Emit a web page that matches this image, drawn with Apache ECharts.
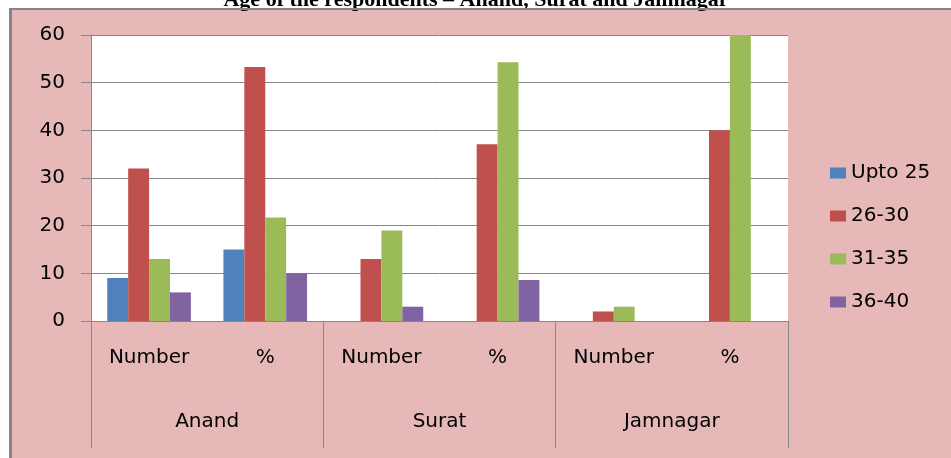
<!DOCTYPE html>
<html>
<head>
<meta charset="utf-8">
<script src="https://cdn.jsdelivr.net/npm/echarts@6/dist/echarts.min.js"></script>
<style>
  html, body { margin: 0; padding: 0; background: #fff; overflow: hidden; }
  #frame {
    position: absolute; left: 9px; top: 8px; width: 950px; height: 460px;
    background: #e6b9b8; border-left: 3px solid #868686; border-top: 2px solid #868686;
  }
  #chart { position: absolute; left: 0; top: 0; width: 951px; height: 458px; }
</style>
</head>
<body>
<div id="frame"></div>
<div id="chart"></div>
<script>
// sub categories (Number / %) under each town
const categories = ["Number", "%", "Number", "%", "Number", "%"];
const towns = ["Anand", "Surat", "Jamnagar"];
const ageBands = ["Upto 25", "26-30", "31-35", "36-40"];

const upto25 = [9, 15, 0, 0, 0, 0];
const age26to30 = [32, 53.3, 13, 37.1, 2, 40];
const age31to35 = [13, 21.7, 19, 54.3, 3, 60];
const age36to40 = [6, 10, 3, 8.6, 0, 0];

const yTicks = { min: 0, max: 60, interval: 10 };

const colors = ["#4f81bd", "#c0504d", "#9bbb59", "#8064a2"];
const grey = "#868686";
const font = "DejaVu Sans";

const chart = echarts.init(document.getElementById("chart"));

const seriesData = [upto25, age26to30, age31to35, age36to40];

chart.setOption({
    backgroundColor: "transparent",
    animation: false,
    color: colors,
    graphic: [
        {
            type: "text",
            x: 476,
            y: 11,
            style: {
                text: "Age of the respondents \u2013 Anand, Surat and Jamnagar",
                font: "bold 22px 'Liberation Serif'",
                fill: "#000",
                textAlign: "center",
                textVerticalAlign: "bottom",
            },
        },
        // frame top edge redrawn over the clipped title
        { type: "rect", shape: { x: 9, y: 8, width: 942, height: 2 }, style: { fill: grey } },
    ],
    grid: {
        left: 91,
        right: 163,
        top: 35,
        bottom: 137,
        show: true,
        backgroundColor: "#fff",
        borderWidth: 0,
    },
    legend: {
        orient: "vertical",
        left: 830,
        top: 163,
        padding: 0,
        itemWidth: 16,
        itemHeight: 11,
        itemGap: 23,
        icon: "rect",
        data: ageBands,
        textStyle: { fontFamily: font, fontSize: 20, color: "#000" },
    },
    xAxis: [
        {
            type: "category",
            data: categories,
            position: "bottom",
            offset: 0,
            axisLine: { onZero: false, lineStyle: { color: grey } },
            axisTick: { length: 64, interval: 0, lineStyle: { color: grey } },
            axisLabel: { interval: 0, margin: 27, fontFamily: font, fontSize: 20, color: "#000" },
        },
        {
            type: "category",
            data: towns,
            position: "bottom",
            offset: 0,
            axisLine: { show: false, onZero: false },
            axisTick: { show: true, length: 127, interval: 0, lineStyle: { color: grey } },
            axisLabel: { interval: 0, margin: 91, fontFamily: font, fontSize: 20, color: "#000" },
        },
    ],
    yAxis: {
        type: "value",
        min: yTicks.min,
        max: yTicks.max,
        interval: yTicks.interval,
        axisLine: { show: true, lineStyle: { color: grey } },
        axisTick: { show: true, length: 10, lineStyle: { color: grey } },
        axisLabel: { margin: 26, fontFamily: font, fontSize: 20, color: "#000" },
        splitLine: { lineStyle: { color: grey, width: 1 } },
    },
    series: ageBands.map((name, i) => ({
        name: name,
        type: "bar",
        xAxisIndex: 0,
        data: seriesData[i],
        barGap: "0%",
        barCategoryGap: "28%",
    })),
});
</script>
</body>
</html>
